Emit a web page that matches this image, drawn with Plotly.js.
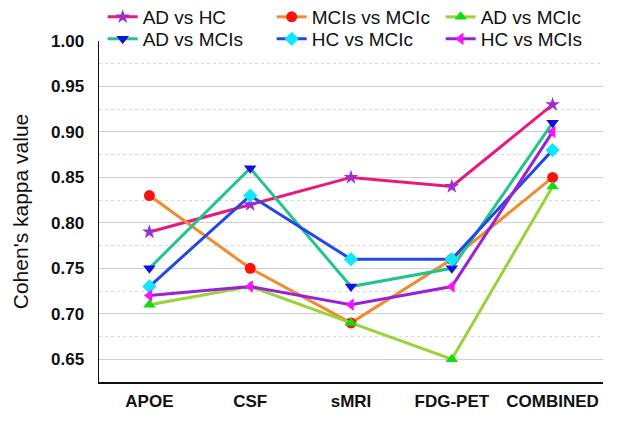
<!DOCTYPE html>
<html>
<head>
<meta charset="utf-8">
<script src="https://cdn.plot.ly/plotly-3.0.1.min.js"></script>
<style>html,body{margin:0;padding:0;background:#fff;}#chart{width:630px;height:425px;}</style>
</head>
<body>
<div id="chart"></div>
<script>
const categories = ["APOE", "CSF", "sMRI", "FDG-PET", "COMBINED"];
const seriesNames = ["AD vs HC", "MCIs vs MCIc", "AD vs MCIc", "AD vs MCIs", "HC vs MCIc", "HC vs MCIs"];
const adVsHc     = [0.79, 0.82, 0.85, 0.84, 0.93];
const mcisVsMcic = [0.83, 0.75, 0.69, 0.76, 0.85];
const adVsMcic   = [0.71, 0.73, 0.69, 0.65, 0.84];
const adVsMcis   = [0.75, 0.86, 0.73, 0.75, 0.91];
const hcVsMcic   = [0.73, 0.83, 0.76, 0.76, 0.88];
const hcVsMcis   = [0.72, 0.73, 0.71, 0.73, 0.90];
const yTicks = [0.65, 0.70, 0.75, 0.80, 0.85, 0.90, 0.95, 1.00];

const seriesValues = [adVsHc, mcisVsMcic, adVsMcic, adVsMcis, hcVsMcic, hcVsMcis];
const lineColors = ["#e8197c", "#f28a30", "#9ad23a", "#22c48e", "#2348e6", "#9a22d6"];
const markerColors = ["#9b2fd0", "#ff1010", "#10dd10", "#1010e0", "#10e6ff", "#ff10ff"];
const markerSymbols = ["star", "circle", "triangle-up", "triangle-down", "diamond", "triangle-left"];
const legendIds = ["legend", "legend", "legend", "legend2", "legend2", "legend2"];

const traces = seriesNames.map((name, i) => ({
  type: "scatter",
  mode: "lines+markers",
  name: name,
  legend: legendIds[i],
  x: categories,
  y: seriesValues[i],
  line: {color: lineColors[i], width: 3},
  marker: {color: markerColors[i], symbol: markerSymbols[i], size: 11, line: {width: 0}}
}));

const legendBase = {
  orientation: "h", xref: "container", yref: "container",
  x: 0.163, xanchor: "left", yanchor: "middle",
  font: {size: 19, color: "#111"},
  entrywidth: 124, entrywidthmode: "pixels",
  bgcolor: "rgba(0,0,0,0)", itemwidth: 30, traceorder: "normal"
};

const layout = {
  width: 630, height: 425,
  paper_bgcolor: "#ffffff", plot_bgcolor: "#ffffff",
  margin: {l: 99, r: 27, t: 41, b: 43, autoexpand: false},
  font: {family: "Liberation Sans, Arial, sans-serif", color: "#111"},
  showlegend: true,
  legend: Object.assign({}, legendBase, {y: 1 - 17 / 425}),
  legend2: Object.assign({}, legendBase, {y: 1 - 39 / 425}),
  xaxis: {
    type: "category", categoryorder: "array", categoryarray: categories,
    range: [-0.5, 4.5],
    showline: true, linecolor: "#111", linewidth: 1.5,
    showgrid: false, ticks: "", zeroline: false,
    tickfont: {size: 17, family: "Liberation Sans, Arial, sans-serif", color: "#111", weight: "bold"},
    ticklabelstandoff: 3
  },
  yaxis: {
    range: [0.625, 1.0],
    tickvals: yTicks, ticktext: yTicks.map(v => v.toFixed(2)),
    showline: true, linecolor: "#111", linewidth: 1.5,
    showgrid: true, gridcolor: "#cfcfcf", gridwidth: 1,
    zeroline: false, ticks: "",
    tickfont: {size: 17, family: "Liberation Sans, Arial, sans-serif", color: "#111", weight: "bold"},
    ticklabelstandoff: 10,
    minor: {dtick: 0.025, tick0: 0.625, showgrid: true, gridcolor: "#d8d8d8", griddash: "dot", gridwidth: 1, ticks: ""},
    title: {text: "Cohen's kappa value", font: {size: 21, color: "#111"}, standoff: 16}
  }
};

Plotly.newPlot("chart", traces, layout, {displayModeBar: false, staticPlot: true});
</script>
</body>
</html>
